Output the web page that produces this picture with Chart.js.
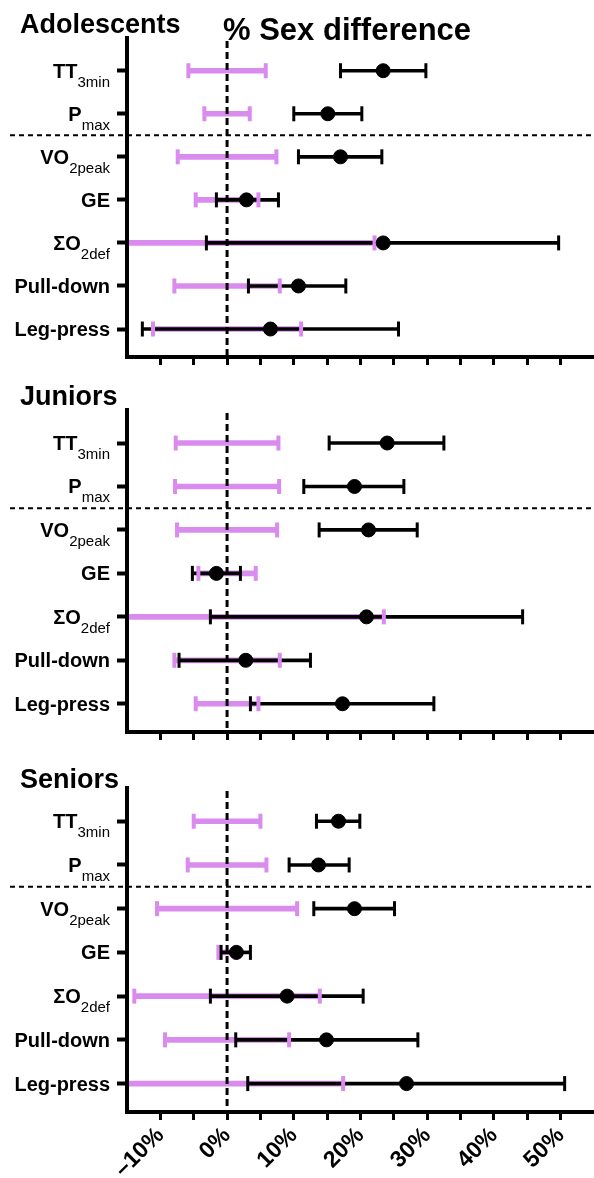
<!DOCTYPE html>
<html>
<head>
<meta charset="utf-8">
<script src="https://cdn.jsdelivr.net/npm/chart.js@4.4.0/dist/chart.umd.min.js"></script>
<style>
  html, body { margin: 0; padding: 0; background: #fff; }
  #wrap { position: relative; width: 594px; height: 1178px; overflow: hidden; }
  canvas { position: absolute; left: 0; }
</style>
</head>
<body>
<div id="wrap">
  <canvas id="adol" width="594" height="380" style="top:0px"></canvas>
  <canvas id="jun" width="594" height="383" style="top:372px"></canvas>
  <canvas id="sen" width="594" height="428" style="top:750px"></canvas>
</div>
<script>
// 행 라벨 (본문 + 아래첨자)
const labelMain = ['TT', 'P', 'VO', 'GE', 'ΣO', 'Pull-down', 'Leg-press'];
const labelSub = ['3min', 'max', '2peak', '', '2def', '', ''];
const xTicks = [-10, -5, 0, 5, 10, 15, 20, 25, 30, 35, 40, 45, 50];

// Adolescents: 성차 % (점), 신뢰구간, 분홍 구간 반폭
const adolDiff = [23.4, 15.1, 17.0, 2.9, 23.4, 10.7, 6.5];
const adolLow = [17.0, 10.0, 10.7, -1.6, -3.1, 3.2, -12.7];
const adolHigh = [29.8, 20.2, 23.2, 7.7, 49.7, 17.8, 25.7];
const adolBand = [5.8, 3.4, 7.4, 4.7, 22.1, 7.9, 11.1];

// Juniors
const junDiff = [24.0, 19.1, 21.2, -1.6, 20.9, 2.8, 17.3];
const junLow = [15.3, 11.5, 13.8, -5.2, -2.5, -7.2, 3.5];
const junHigh = [32.5, 26.5, 28.5, 2.0, 44.3, 12.5, 31.0];
const junBand = [7.7, 7.8, 7.5, 4.3, 23.5, 7.9, 4.7];

// Seniors
const senDiff = [16.7, 13.7, 19.1, 1.4, 9.0, 14.9, 26.9];
const senLow = [13.4, 9.3, 13.0, -0.9, -2.5, 1.3, 3.1];
const senHigh = [19.9, 18.3, 25.1, 3.5, 20.4, 28.6, 50.6];
const senBand = [5.0, 5.9, 10.5, 1.3, 13.9, 9.3, 17.4];

const PINK = '#DA8BEE';
const FONT = "'Liberation Sans', Arial, sans-serif";

function fmtPct(v) {
    return v < 0 ? '\u2013' + Math.abs(v) + '%' : v + '%';
}

// 점, 오차막대 데이터셋 생성
function buildDatasets(diff, low, high, band) {
    const rows = diff.map((_, i) => i);
    const clipLeft = {left: -2, right: 10, top: 10, bottom: 10};
    return [
        {
            type: 'scatter', order: 0,
            data: rows.map(i => ({x: diff[i], y: i})),
            pointStyle: 'circle', pointRadius: 7,
            pointBackgroundColor: '#000', pointBorderColor: '#000', pointBorderWidth: 1
        },
        {
            type: 'scatter', order: 1,
            data: rows.flatMap(i => [{x: low[i], y: i}, {x: high[i], y: i}]),
            pointStyle: 'line', pointRotation: 90, pointRadius: 7.5,
            pointBorderColor: '#000', pointBorderWidth: 3, clip: clipLeft
        },
        {
            type: 'scatter', order: 2,
            data: rows.flatMap(i => [{x: -band[i], y: i}, {x: band[i], y: i}]),
            pointStyle: 'line', pointRotation: 90, pointRadius: 7.5,
            pointBorderColor: PINK, pointBorderWidth: 4, clip: clipLeft
        },
        {
            type: 'bar', order: 3, indexAxis: 'y', grouped: false,
            data: rows.map(i => ({x: [low[i], high[i]], y: i})),
            barThickness: 3, backgroundColor: '#000', borderWidth: 0, clip: clipLeft
        },
        {
            type: 'bar', order: 4, indexAxis: 'y', grouped: false,
            data: rows.map(i => ({x: [-band[i], band[i]], y: i})),
            barThickness: 5, backgroundColor: PINK, borderWidth: 0, clip: clipLeft
        }
    ];
}

// 라벨, 제목, 점선
const panelDecor = {
    id: 'panelDecor',
    afterDatasetsDraw(chart) {
        const {ctx, chartArea} = chart;
        const x0 = chart.scales.x.getPixelForValue(0);
        ctx.save();
        ctx.strokeStyle = '#000';
        ctx.lineWidth = 3;
        ctx.setLineDash([7, 4]);
        ctx.beginPath();
        ctx.moveTo(x0, chartArea.top + 3);
        ctx.lineTo(x0, chartArea.bottom);
        ctx.stroke();
        ctx.restore();
    },
    afterDraw(chart, args, opts) {
        const {ctx} = chart;
        const yScale = chart.scales.y;
        ctx.save();

        const ys = yScale.getPixelForValue(1.5);
        ctx.strokeStyle = '#000';
        ctx.lineWidth = 2;
        ctx.setLineDash([5, 4]);
        ctx.beginPath();
        ctx.moveTo(10, ys);
        ctx.lineTo(chart.width, ys);
        ctx.stroke();
        ctx.setLineDash([]);

        ctx.fillStyle = '#000';
        ctx.textAlign = 'left';
        ctx.textBaseline = 'alphabetic';
        const right = 110;
        labelMain.forEach((main, i) => {
            const py = yScale.getPixelForValue(i);
            ctx.font = '15px ' + FONT;
            const wSub = labelSub[i] ? ctx.measureText(labelSub[i]).width : 0;
            ctx.font = 'bold 20px ' + FONT;
            const wMain = ctx.measureText(main).width;
            ctx.fillText(main, right - wSub - wMain, py + 7);
            if (labelSub[i]) {
                ctx.font = '15px ' + FONT;
                ctx.fillText(labelSub[i], right - wSub, py + 16);
            }
        });

        ctx.font = 'bold 27px ' + FONT;
        ctx.fillText(opts.title, 20, opts.titleY);
        if (opts.heading) {
            ctx.font = 'bold 31px ' + FONT;
            ctx.fillText(opts.heading, 223, 40);
        }
        ctx.restore();
    }
};

function makePanel(id, title, titleY, heading, showLabels, axisH, diff, low, high, band) {
    return new Chart(document.getElementById(id), {
        type: 'scatter',
        data: {datasets: buildDatasets(diff, low, high, band)},
        options: {
            responsive: false,
            animation: false,
            events: [],
            layout: {autoPadding: false, padding: {top: 38, left: 0, right: 0, bottom: 0}},
            plugins: {
                legend: {display: false},
                tooltip: {enabled: false},
                panelDecor: {title, titleY, heading}
            },
            scales: {
                x: {
                    type: 'linear', min: -15, max: 55, offset: false,
                    afterBuildTicks: s => { s.ticks = xTicks.map(v => ({value: v})); },
                    afterFit: s => { s.height = axisH; },
                    ticks: {
                        display: showLabels, autoSkip: false,
                        minRotation: 45, maxRotation: 45, padding: 2,
                        color: '#000',
                        font: {family: FONT, size: 23, weight: 'bold'},
                        callback: v => (v % 10 === 0 ? fmtPct(v) : '')
                    },
                    grid: {
                        display: true, offset: false, drawOnChartArea: false,
                        drawTicks: true, tickLength: 8, tickWidth: 3, tickColor: '#000'
                    },
                    border: {display: true, color: '#000', width: 4}
                },
                y: {
                    type: 'linear', reverse: true, min: -0.76, max: 6.65, offset: false,
                    afterBuildTicks: s => { s.ticks = labelMain.map((_, i) => ({value: i})); },
                    afterFit: s => { s.width = 127; },
                    ticks: {display: false},
                    grid: {
                        display: true, offset: false, drawOnChartArea: false,
                        drawTicks: true, tickLength: 10, tickWidth: 4, tickColor: '#000'
                    },
                    border: {display: true, color: '#000', width: 4}
                }
            }
        },
        plugins: [panelDecor]
    });
}

makePanel('adol', 'Adolescents', 33, '% Sex difference', false, 23, adolDiff, adolLow, adolHigh, adolBand);
makePanel('jun', 'Juniors', 33, null, false, 23, junDiff, junLow, junHigh, junBand);
makePanel('sen', 'Seniors', 38, null, true, 66, senDiff, senLow, senHigh, senBand);
</script>
</body>
</html>
